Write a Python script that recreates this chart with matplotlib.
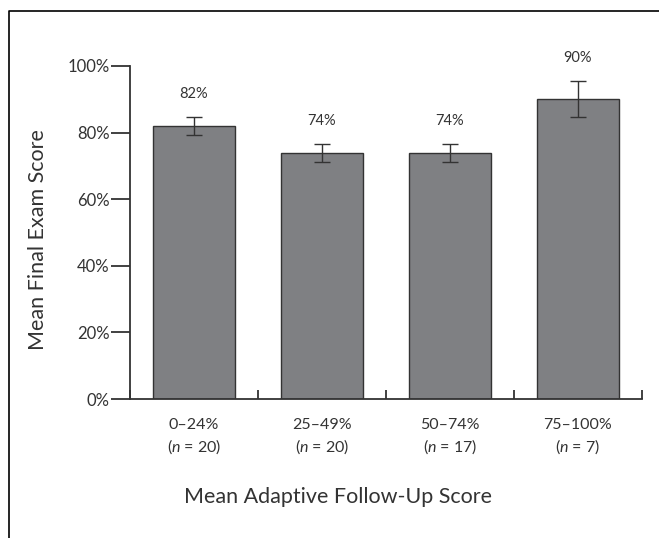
import matplotlib
matplotlib.use("Agg")
import matplotlib.pyplot as plt
from matplotlib.lines import Line2D
import numpy as np

# Data
categories = ["0–24%", "25–49%", "50–74%", "75–100%"]
group_sizes = [20, 20, 17, 7]
mean_scores = [82, 74, 74, 90]
errors = [2.8, 2.7, 2.7, 5.4]
y_ticks = [0, 20, 40, 60, 80, 100]

plt.rcParams["font.family"] = ["Lato", "DejaVu Sans"]
plt.rcParams["mathtext.fontset"] = "custom"
plt.rcParams["mathtext.it"] = "Lato:italic"
plt.rcParams["mathtext.rm"] = "Lato"

ink = "#333333"
bar_color = "#7f8083"

fig = plt.figure(figsize=(6.59, 5.38), dpi=100)
ax = fig.add_axes([130 / 659, 1 - 399 / 538, 512 / 659, 333 / 538])

x = np.arange(len(categories)) + 0.5
ax.bar(x, mean_scores, width=0.64, color=bar_color, edgecolor=ink,
       linewidth=1.0, zorder=2)
ax.errorbar(x, mean_scores, yerr=errors, fmt="none", ecolor=ink,
            elinewidth=1.0, capsize=5.5, capthick=1.0, zorder=3)

for xi, m, e in zip(x, mean_scores, errors):
    ax.annotate(f"{m}%", xy=(xi, m + e), xytext=(0, 16.5),
                textcoords="offset points", ha="center", va="center",
                fontsize=10.5, color=ink)

ax.set_xlim(0, len(categories))
ax.set_ylim(0, 100)

# y axis: outward ticks with labels snug against them
ax.set_yticks(y_ticks)
ax.set_yticklabels([f"{t}%" for t in y_ticks])
ax.tick_params(axis="y", direction="out", length=14, width=1.3,
               color=ink, labelsize=12, labelcolor=ink, pad=0.5)

# x axis: inward ticks at group boundaries, labels centred under bars
ax.set_xticks(np.arange(len(categories) + 1))
ax.set_xticklabels([])
ax.tick_params(axis="x", which="major", direction="in", length=6.5,
               width=1.3, color=ink)
ax.set_xticks(x, minor=True)
ax.set_xticklabels([f"{c}\n($n$ = {n})" for c, n in zip(categories, group_sizes)],
                   minor=True)
ax.tick_params(axis="x", which="minor", length=0, labelsize=11.5,
               labelcolor=ink, pad=14)
for lbl in ax.get_xticklabels(minor=True):
    lbl.set_linespacing(1.35)

for side in ("top", "right"):
    ax.spines[side].set_visible(False)
for side in ("left", "bottom"):
    ax.spines[side].set_color(ink)
    ax.spines[side].set_linewidth(1.3)

ax.set_ylabel("Mean Final Exam Score", fontsize=15.5, color=ink)
ax.yaxis.set_label_coords((38 - 130) / 512, (399 - 240) / 333)
ax.yaxis.label.set_va("center")

fig.text(338 / 659, 1 - 497 / 538, "Mean Adaptive Follow-Up Score",
         ha="center", va="center", fontsize=15.5, color=ink)

# frame around the figure (left and top edges)
left, top = 8.5 / 659, 1 - 10.5 / 538
fig.add_artist(Line2D([1.0, left, left], [top, top, 0.0],
                      transform=fig.transFigure, color="black", linewidth=1.2))

fig.savefig("out.png", dpi=100)
